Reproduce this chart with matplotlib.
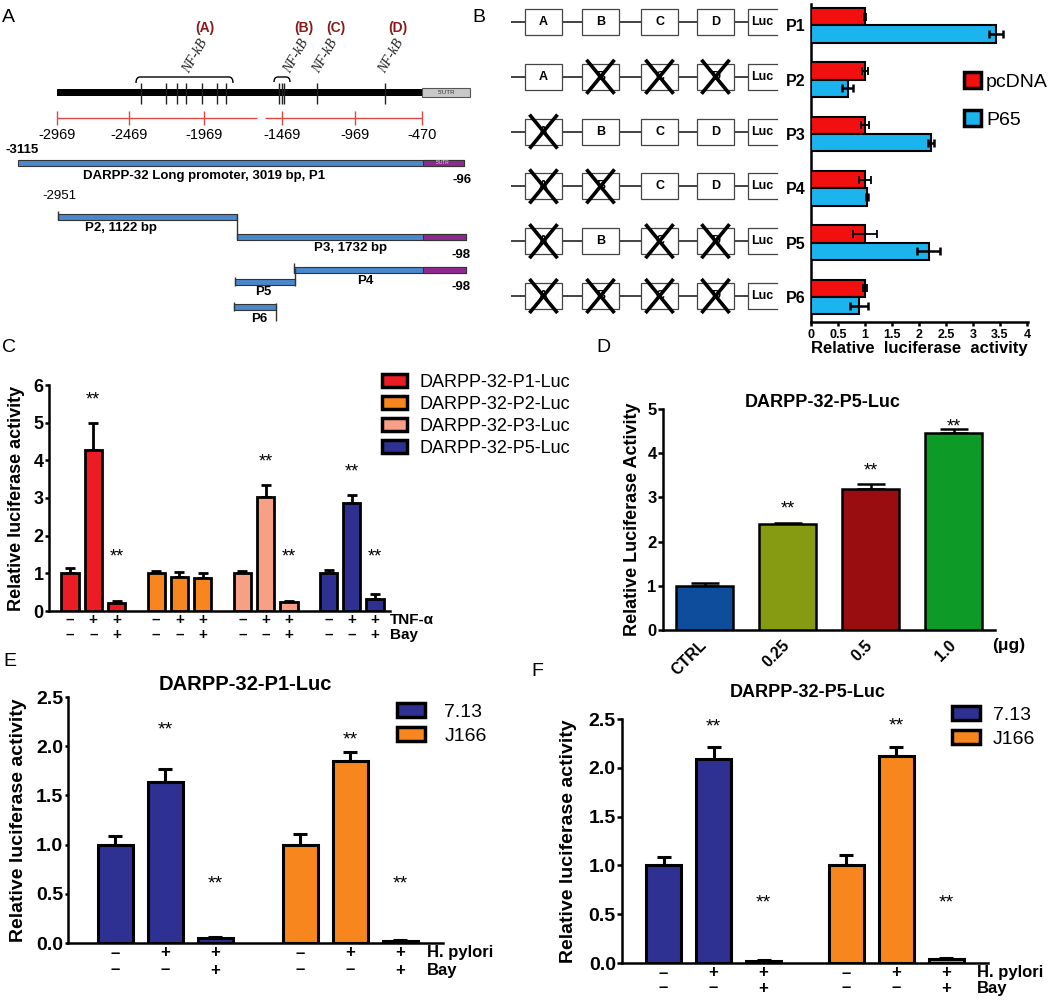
import numpy as np
import matplotlib
matplotlib.use("Agg")
import matplotlib.pyplot as plt
from matplotlib.patches import Rectangle, Patch, PathPatch
from matplotlib.path import Path
from matplotlib.transforms import blended_transform_factory

plt.rcParams['font.family'] = ['Liberation Sans', 'DejaVu Sans']

W, H = 1050, 1000

# ---------------- data ----------------
# A: promoter map (diagram positions)
scale_pos = [57, 129, 204, 282, 355, 422]
scale_lbl = ["-2969", "-2469", "-1969", "-1469", "-969", "-470"]
site_pos = [141, 166, 177, 186, 202, 217, 226, 279, 282, 284, 317, 385]
site_names = ["(A)", "(B)", "(C)", "(D)"]
site_name_x = [205, 304, 336, 398]
nfkb_x = [195, 296, 325, 391]
con_names = ["P1", "P2", "P3", "P4", "P5", "P6"]
con_start = [18, 58, 237, 294, 235, 234]
con_end = [464, 237, 466, 466, 295, 276]
con_y = [163, 217, 237, 270, 282, 307]
con_utr = [True, False, True, True, False, False]
con_text = ["DARPP-32 Long promoter, 3019 bp, P1", "P2, 1122 bp", "P3, 1732 bp", "P4", "P5", "P6"]
con_text_xy = [(204, 176), (121, 228), (350, 248), (365, 281), (263, 292), (259, 319)]
end_lbl = [("-3115", 22, 150, "bold"), ("-96", 462, 180, "bold"), ("-2951", 59, 196, "normal"),
           ("-98", 461, 255, "bold"), ("-98", 461, 287, "bold")]

# B: deletion constructs + P65 activation
b_rows = ["P1", "P2", "P3", "P4", "P5", "P6"]
b_sites = ["A", "B", "C", "D"]
b_deleted = [[], ["B", "C", "D"], ["A"], ["A", "B"], ["A", "C", "D"], ["A", "B", "C", "D"]]
b_pcdna = [1.0, 1.0, 1.0, 1.0, 1.0, 1.0]
b_pcdna_err = [0.02, 0.05, 0.08, 0.11, 0.22, 0.03]
b_p65 = [3.42, 0.68, 2.22, 1.04, 2.18, 0.89]
b_p65_err = [0.13, 0.10, 0.06, 0.02, 0.21, 0.17]
b_colors = ["#f20f0f", "#1cb4ee"]
b_legend = ["pcDNA", "P65"]

# C: TNF-a / Bay
c_names = ["DARPP-32-P1-Luc", "DARPP-32-P2-Luc", "DARPP-32-P3-Luc", "DARPP-32-P5-Luc"]
c_colors = ["#ec1c24", "#f7861f", "#f7a086", "#2e3192"]
c_means = [[1.0, 4.28, 0.20], [1.0, 0.91, 0.87], [1.0, 3.02, 0.24], [1.0, 2.87, 0.33]]
c_errs = [[0.15, 0.72, 0.06], [0.05, 0.12, 0.15], [0.07, 0.32, 0.03], [0.08, 0.22, 0.12]]
c_stars = [[None, 5.75, 1.6], [None, None, None], [None, 4.1, 1.6], [None, 3.85, 1.6]]
c_tnf = ["–", "+", "+"]
c_bay = ["–", "–", "+"]

# D: P65 dose
d_doses = ["CTRL", "0.25", "0.5", "1.0"]
d_means = [1.0, 2.40, 3.20, 4.45]
d_errs = [0.06, 0.03, 0.10, 0.10]
d_colors = ["#0e4c9c", "#879b12", "#990c10", "#0d9a27"]
d_stars = [None, 2.87, 3.73, 4.72]

# E/F: H. pylori strains
ef_strains = ["7.13", "J166"]
ef_colors = ["#2e3192", "#f7861f"]
ef_hp = ["–", "+", "+"]
ef_bay = ["–", "–", "+"]
e_means = [[1.0, 1.64, 0.05], [1.0, 1.85, 0.02]]
e_errs = [[0.09, 0.13, 0.01], [0.11, 0.09, 0.006]]
e_stars = [[None, 2.23, 0.67], [None, 2.13, 0.67]]
f_means = [[1.0, 2.09, 0.02], [1.0, 2.12, 0.04]]
f_errs = [[0.09, 0.12, 0.01], [0.11, 0.09, 0.01]]
f_stars = [[None, 2.49, 0.68], [None, 2.50, 0.68]]

# ---------------- figure ----------------
fig = plt.figure(figsize=(10.5, 10), dpi=100)


def rect(l, t, r, b):
    return [l / W, 1 - b / H, (r - l) / W, (b - t) / H]


def fy(ypx):
    return 1 - ypx / H


ov = fig.add_axes([0, 0, 1, 1])
ov.set_xlim(0, W); ov.set_ylim(H, 0); ov.axis("off")

for lab, x, y in [("A", 8, 17), ("B", 479, 17), ("C", 9, 347), ("D", 603, 347), ("E", 10, 662), ("F", 537, 672)]:
    ov.text(x, y, lab, fontsize=14, ha="center", va="center")

# ---- A ----
ov.add_patch(Rectangle((57, 88.5), 365, 7, fc="black", ec="black", lw=0))
ov.add_patch(Rectangle((422, 88), 48, 9, fc="#c9c9c9", ec="#555555", lw=0.8))
ov.text(446, 92.5, "5'UTR", fontsize=4.5, ha="center", va="center", color="#333333")
ov.vlines(site_pos, 83, 104, color="#222222", lw=1.0)


def brace(x0, x1, y, d):
    verts = [(x0, y + d), (x0, y), (x0 + 4, y), (x1 - 4, y), (x1, y), (x1, y + d)]
    codes = [Path.MOVETO, Path.CURVE3, Path.CURVE3, Path.LINETO, Path.CURVE3, Path.CURVE3]
    ov.add_patch(PathPatch(Path(verts, codes), fc="none", ec="black", lw=1.0))


brace(136, 233, 77, 6)
brace(274, 290, 77, 5)
for name, x in zip(site_names, site_name_x):
    ov.text(x, 28, name, color="#8b1a1a", fontsize=10, fontweight="bold", ha="center", va="center")
for x in nfkb_x:
    ov.text(x, 56, "NF-kB", family="Liberation Serif", style="italic", fontsize=10,
            rotation=60, ha="center", va="center", color="#222222")

ov.hlines(118, 57, 257, color="#e04848", lw=1.0)
ov.hlines(118, 265, 422, color="#e04848", lw=1.0)
ov.vlines(scale_pos, 111, 125, color="#e04848", lw=1.0)
for x, s in zip(scale_pos, scale_lbl):
    ov.text(x, 135, s, fontsize=10.5, ha="center", va="center")

for s, e, y, u in zip(con_start, con_end, con_y, con_utr):
    ov.add_patch(Rectangle((s, y - 3), e - s, 6, fc="#4a88cc", ec="#333333", lw=0.8))
    if u:
        ov.add_patch(Rectangle((423, y - 3), e - 423, 6, fc="#8e2a8e", ec="#333333", lw=0.8))
ov.text(443, 163, "5'UTR", fontsize=3.5, ha="center", va="center", color="#dddddd")
for x, y0, y1 in [(58, 211, 220), (237, 214, 240), (294, 263, 273), (235, 277, 286),
                  (295, 268, 286), (234, 302, 311), (276, 303, 321)]:
    ov.vlines(x, y0, y1, color="#333333", lw=1.0)
for t, (x, y) in zip(con_text, con_text_xy):
    ov.text(x, y, t, fontsize=9.5, fontweight="bold", ha="center", va="center")
for t, x, y, w in end_lbl:
    ov.text(x, y, t, fontsize=9.5, fontweight=w, ha="center", va="center")

# ---- B diagram ----
box_left = [525, 582, 641, 697]
for k, dele in enumerate(b_deleted):
    y = 22 + 54.8 * k
    ov.hlines(y, 511, 748, color="#222222", lw=1.2, zorder=1)
    for name, bx in zip(b_sites, box_left):
        ov.add_patch(Rectangle((bx, y - 13), 37, 26, fc="white", ec="#444444", lw=0.9, zorder=2))
        ov.text(bx + 18.5, y, name, fontsize=9, fontweight="bold", ha="center", va="center", zorder=3)
        if name in dele:
            cx = bx + 18.5
            ov.plot([cx - 14, cx + 14], [y - 17, y + 17], color="black", lw=2.6,
                    solid_capstyle="butt", zorder=4)
            ov.plot([cx + 14, cx - 14], [y - 17, y + 17], color="black", lw=2.6,
                    solid_capstyle="butt", zorder=4)
    ov.add_patch(Rectangle((748, y - 13), 29, 26, fc="white", ec="none", zorder=2))
    ov.plot([777, 748, 748, 777], [y - 13, y - 13, y + 13, y + 13], color="#444444", lw=0.9, zorder=3)
    ov.text(762, y, "Luc", fontsize=9, fontweight="bold", ha="center", va="center", zorder=3)

# ---- B bars ----
axb = fig.add_axes(rect(811, 4, 1028, 322))
axb.set_facecolor("none")
yy = np.arange(len(b_rows))
axb.barh(yy - 0.16, b_pcdna, 0.32, color=b_colors[0], edgecolor="black", lw=1.5, zorder=3)
axb.barh(yy + 0.16, b_p65, 0.32, color=b_colors[1], edgecolor="black", lw=1.5, zorder=3)
axb.errorbar(b_pcdna, yy - 0.16, xerr=b_pcdna_err, fmt="none", ecolor="black", elinewidth=1.3,
             capsize=3, capthick=1.3, zorder=4)
axb.errorbar(b_p65, yy + 0.16, xerr=b_p65_err, fmt="none", ecolor="black", elinewidth=1.8,
             capsize=3, capthick=1.8, zorder=4)
axb.set_xlim(0, 4.02)
axb.set_ylim(5.46, -0.39)
axb.set_xticks(np.arange(0, 4.01, 0.5), ["0", "0.5", "1", "1.5", "2", "2.5", "3", "3.5", "4"])
axb.set_yticks(yy, b_rows)
for s in ["top", "right"]:
    axb.spines[s].set_visible(False)
for s in ["left", "bottom"]:
    axb.spines[s].set_linewidth(1.8)
axb.tick_params(axis="y", length=0, pad=4, labelsize=11.5)
axb.tick_params(axis="x", length=3, width=1.8, pad=2, labelsize=9)
for t in axb.get_xticklabels() + axb.get_yticklabels():
    t.set_fontweight("bold")
axb.set_xlabel("Relative  luciferase  activity", fontsize=12, fontweight="bold", labelpad=0)
fig.legend([Patch(fc=c, ec="black", lw=2.5) for c in b_colors], b_legend, loc="upper left",
           bbox_to_anchor=(964 / W, fy(72)), frameon=False, fontsize=14, handlelength=0.88,
           handleheight=0.88, handletextpad=0.25, labelspacing=1.0, borderpad=0, borderaxespad=0)


# ---------------- helpers ----------------
def style(ax, lw, tick_fs, tick_len):
    ax.set_facecolor("none")
    for s in ["top", "right"]:
        ax.spines[s].set_visible(False)
    for s in ["left", "bottom"]:
        ax.spines[s].set_linewidth(lw)
    ax.tick_params(axis="x", length=0)
    ax.tick_params(axis="y", width=lw, length=tick_len, pad=1, labelsize=tick_fs)
    for t in ax.get_yticklabels():
        t.set_fontweight("bold")


def stars(ax, x, y, fs):
    # centre the asterisks visually on y
    ax.annotate("**", (x, y), xytext=(0, -0.57 * fs), textcoords="offset points",
                ha="center", va="baseline", fontsize=fs)


def grouped(ax, means, errs, star_y, colors, gap, width, lw, cap, star_fs):
    xs_all = []
    for g, (m, e, st, c) in enumerate(zip(means, errs, star_y, colors)):
        xs = np.arange(len(m)) + g * gap
        ax.bar(xs, m, width, color=c, edgecolor="black", linewidth=lw, zorder=3)
        ax.errorbar(xs, m, yerr=[np.zeros(len(e)), e], fmt="none", ecolor="black",
                    elinewidth=lw, capsize=cap, capthick=lw, zorder=2)
        for x, s in zip(xs, st):
            if s is not None:
                stars(ax, x, s, star_fs)
        xs_all.extend(xs)
    return xs_all


def sign_rows(ax, xs, rows, labels, ys_px, label_x, fs):
    tr = blended_transform_factory(ax.transData, fig.transFigure)
    for row, lab, ypx in zip(rows, labels, ys_px):
        for x, s in zip(xs, row * (len(xs) // len(row))):
            ax.text(x, fy(ypx), s, transform=tr, ha="center", va="center", fontsize=fs, fontweight="bold")
        fig.text(label_x / W, fy(ypx), lab, ha="left", va="center", fontsize=fs, fontweight="bold")


# ---- C ----
axc = fig.add_axes(rect(49, 385, 390, 611))
xs = grouped(axc, c_means, c_errs, c_stars, c_colors, 3.7, 0.74, 2.0, 3.5, 13)
axc.set_xlim(-0.9, 13.74); axc.set_ylim(0, 6)
axc.set_yticks(range(0, 7)); axc.set_xticks([])
style(axc, 1.8, 13, 3)
axc.set_ylabel("Relative luciferase activity", fontsize=13, fontweight="bold")
axc.yaxis.set_label_coords((25 - 49) / 341, 0.5)
sign_rows(axc, xs, [c_tnf, c_bay], ["TNF-α", "Bay"], [620, 635], 390, 11)
fig.legend([Patch(fc=c, ec="black", lw=2.5) for c in c_colors], c_names, loc="upper left",
           bbox_to_anchor=(382 / W, fy(374)), frameon=False, fontsize=13, handlelength=1.4,
           handleheight=0.72, handletextpad=0.7, labelspacing=0.27, borderpad=0, borderaxespad=0)

# ---- D ----
axd = fig.add_axes(rect(663, 409, 995, 630))
xd = np.arange(len(d_doses))
axd.bar(xd, d_means, 0.68, color=d_colors, edgecolor="black", linewidth=1.8, zorder=3)
axd.errorbar(xd, d_means, yerr=[np.zeros(len(d_errs)), d_errs], fmt="none", ecolor="black",
             elinewidth=1.8, capsize=10, capthick=1.8, zorder=2)
for x, s in zip(xd, d_stars):
    if s is not None:
        stars(axd, x, s, 13)
axd.set_xlim(-0.5, 3.5); axd.set_ylim(0, 5)
axd.set_yticks(range(0, 6))
axd.set_xticks(xd, d_doses, rotation=45, ha="right", va="center", rotation_mode="anchor",
               fontsize=11.5, fontweight="bold")
style(axd, 1.8, 12, 3.5)
axd.tick_params(axis="x", pad=9)
axd.set_ylabel("Relative Luciferase Activity", fontsize=13, fontweight="bold")
axd.yaxis.set_label_coords((641 - 663) / 332, 0.5)
axd.text(0.482, 1.03, "DARPP-32-P5-Luc", transform=axd.transAxes, ha="center", va="center",
         fontsize=13, fontweight="bold")
axd.text(1.042, -0.068, "(μg)", transform=axd.transAxes, ha="center", va="center",
         fontsize=12.5, fontweight="bold")

# ---- E ----
axe = fig.add_axes(rect(68, 697, 443, 943))
xs = grouped(axe, e_means, e_errs, e_stars, ef_colors, 3.7, 0.7, 2.2, 4.8, 14)
axe.set_xlim(-0.94, 6.56); axe.set_ylim(0, 2.5)
axe.set_yticks(np.arange(0, 2.51, 0.5), [f"{v:.1f}" for v in np.arange(0, 2.51, 0.5)])
axe.set_xticks([])
style(axe, 1.8, 14, 2.5)
axe.set_ylabel("Relative luciferase activity", fontsize=14, fontweight="bold")
axe.yaxis.set_label_coords((27 - 68) / 375, 0.5)
axe.text(0.472, 1.049, "DARPP-32-P1-Luc", transform=axe.transAxes, ha="center", va="center",
         fontsize=14.5, fontweight="bold")
sign_rows(axe, xs, [ef_hp, ef_bay], ["H. pylori", "Bay"], [953, 970], 427, 12)
fig.legend([Patch(fc=c, ec="black", lw=2.5) for c in ef_colors], ef_strains, loc="upper left",
           bbox_to_anchor=(397 / W, fy(703)), frameon=False, fontsize=14, handlelength=1.44,
           handleheight=0.77, handletextpad=1.0, labelspacing=0.3, borderpad=0, borderaxespad=0)

# ---- F ----
axf = fig.add_axes(rect(622, 719, 988, 963))
xs = grouped(axf, f_means, f_errs, f_stars, ef_colors, 3.65, 0.7, 2.2, 4.8, 14)
axf.set_xlim(-0.83, 6.49); axf.set_ylim(0, 2.5)
axf.set_yticks(np.arange(0, 2.51, 0.5), [f"{v:.1f}" for v in np.arange(0, 2.51, 0.5)])
axf.set_xticks([])
style(axf, 1.8, 14, 3.5)
axf.set_ylabel("Relative luciferase activity", fontsize=14, fontweight="bold")
axf.yaxis.set_label_coords((577 - 622) / 366, 0.5)
axf.text(0.508, 1.11, "DARPP-32-P5-Luc", transform=axf.transAxes, ha="center", va="center",
         fontsize=13, fontweight="bold")
sign_rows(axf, xs, [ef_hp, ef_bay], ["H. pylori", "Bay"], [973, 988], 977, 12)
fig.legend([Patch(fc=c, ec="black", lw=2.5) for c in ef_colors], ef_strains, loc="upper left",
           bbox_to_anchor=(952 / W, fy(706)), frameon=False, fontsize=14, handlelength=1.44,
           handleheight=0.77, handletextpad=0.67, labelspacing=0.3, borderpad=0, borderaxespad=0)

fig.savefig("out.png", dpi=100)
